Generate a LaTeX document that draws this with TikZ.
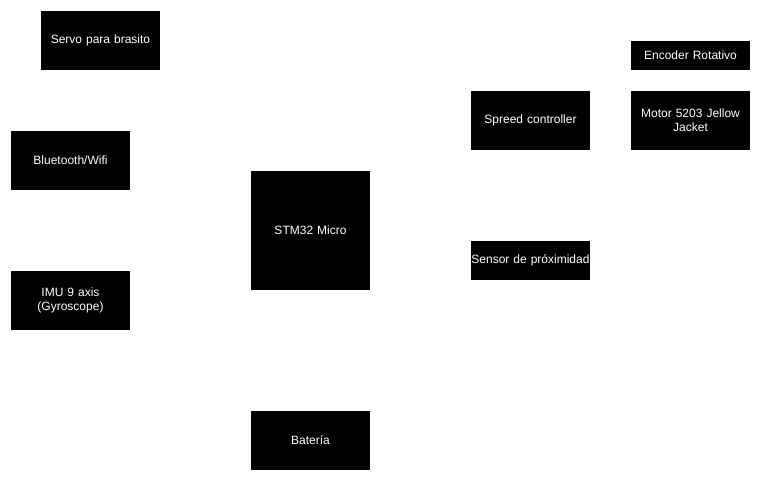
\documentclass[tikz,border=0pt]{standalone}
\usepackage{fontspec}
\setmainfont{Liberation Sans}
\usetikzlibrary{positioning}

\begin{document}
\begin{tikzpicture}[x=1pt, y=-1pt,
  blk/.style={fill=black, text=white, minimum width=119pt, minimum height=59pt,
    inner sep=0pt, align=center, text width=119pt,
    font=\fontsize{12}{14}\selectfont}]
  \useasboundingbox (0,0) rectangle (761,481);
  % left column
  \node[blk] (servo) at (100.5,40.5) {Servo para brasito};
  \node[blk] (bt) at (70.5,160.5) {Bluetooth/Wifi};
  \node[blk] (imu) at (70.5,300.5) {IMU 9 axis\\(Gyroscope)};
  % centre
  \node[blk, minimum height=119pt] (stm) at (310.5,230.5) {STM32 Micro};
  \node[blk] (bat) at (310.5,440.5) {Batería};
  % right side
  \node[blk] (esc) at (530.5,120.5) {Spreed controller};
  \node[blk, minimum height=39pt] (prox) at (530.5,260.5) {Sensor de próximidad};
  \node[blk, minimum height=29pt] (enc) at (690.5,55.5) {Encoder Rotativo};
  \node[blk] (motor) at (690.5,120.5) {Motor 5203 Jellow\\Jacket};
\end{tikzpicture}
\end{document}
